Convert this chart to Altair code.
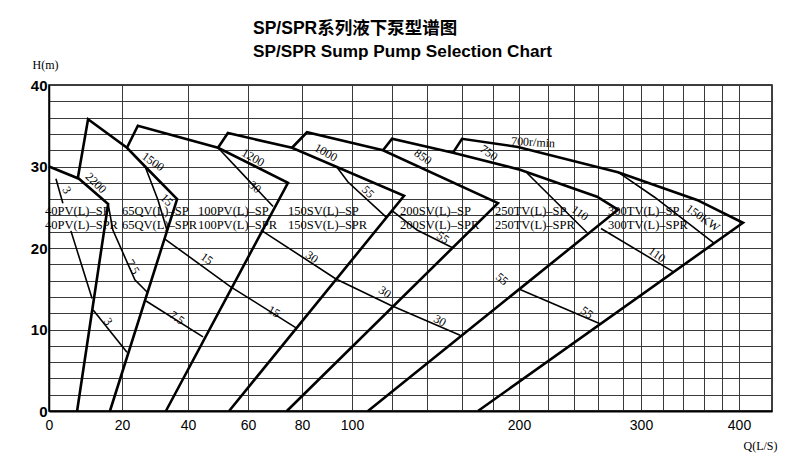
import altair as alt
import pandas as pd

# ---------------- axes ----------------
x_grid_values = list(range(0, 401, 20))
x_label_values = [0, 20, 40, 60, 80, 100, 200, 300, 400]
y_grid_values = list(range(0, 41, 2))
y_label_values = [0, 10, 20, 30, 40]

# the printed chart uses a hand-drawn, non-uniform Q axis:
q_breaks = [0, 20, 40, 60, 80, 100, 120, 140, 160, 180, 200, 220, 240, 260, 280,
            300, 320, 340, 360, 380, 400, 440]
q_screen = [0, 73, 139, 199, 253, 303, 343, 378, 413, 444, 470, 499, 525, 549, 574,
            592, 614, 634, 655, 673, 690, 723]

# ---------------- pump envelopes (Q L/s, H m) ----------------
env_40PV_Q = [0.0, 8.2, 16.2, 7.7]
env_40PV_H = [30.0, 28.5, 25.4, 0.0]
env_65QV_Q = [7.9, 10.7, 21.5, 27.0, 36.7, 16.7]
env_65QV_H = [28.6, 35.8, 32.3, 30.0, 26.0, 0.0]
env_100PV_Q = [21.5, 24.8, 50.0, 74.8, 33.3]
env_100PV_H = [32.3, 35.0, 32.3, 28.0, 0.0]
env_150SV_Q = [50.0, 53.3, 76.3, 126.9, 53.7]
env_150SV_H = [32.3, 34.1, 32.3, 26.4, 0.0]
env_200SV_Q = [76.3, 82.0, 115.5, 183.8, 74.4]
env_200SV_H = [32.3, 34.2, 32.0, 25.5, 0.0]
env_250TV_Q = [115.5, 120.0, 154.9, 200.7, 259.2, 276.0, 108.0]
env_250TV_H = [32.0, 33.4, 31.7, 29.6, 26.3, 24.7, 0.0]
env_300TV_Q = [154.9, 160.0, 199.2, 276.0, 353.3, 404.8, 170.3]
env_300TV_H = [31.7, 33.4, 32.4, 29.3, 25.9, 23.1, 0.0]

# ---------------- motor power lines ----------------
kw3_a_Q = [1.9, 3.8];            kw3_a_H = [28.5, 25.5]
kw3_b_Q = [6.0, 11.8];           kw3_b_H = [22.1, 13.8]
kw3_c_Q = [12.1, 21.5];          kw3_c_H = [12.4, 7.2]
kw75_a_Q = [16.2, 17.5, 23.9, 27.6]; kw75_a_H = [25.4, 22.2, 16.1, 14.6]
kw75_b_Q = [27.3, 45.0];         kw75_b_H = [13.5, 9.1]
kw15_a_Q = [27.0, 30.9, 33.6];   kw15_a_H = [30.0, 25.9, 22.2]
kw15_b_Q = [33.0, 54.0, 77.8];   kw15_b_H = [21.1, 15.3, 10.2]
kw30_a_Q = [50.0, 69.3];         kw30_a_H = [32.3, 25.1]
kw30_b_Q = [64.8, 93.6, 119.0, 158.9]; kw30_b_H = [22.2, 16.2, 13.0, 9.3]
kw55_a_Q = [94.0, 98.4, 117.5];  kw55_a_H = [29.9, 28.1, 23.7]
kw55_b_Q = [120.0, 134.3, 154.9]; kw55_b_H = [24.6, 22.2, 20.0]
kw55_c_Q = [200.7, 261.6];       kw55_c_H = [14.9, 10.7]
kw110_a_Q = [205.5, 250.8];      kw110_a_H = [29.2, 21.9]
kw110_b_Q = [262.4, 330.0];      kw110_b_H = [22.4, 17.1]
kw150_Q = [276.0, 312.7, 371.1]; kw150_H = [29.3, 26.2, 20.6]

# ---------------- labels ----------------
model_names_sp = ["40PV(L)–SP", "65QV(L)–SP", "100PV(L)–SP", "150SV(L)–SP",
                  "200SV(L)–SP", "250TV(L)–SP", "300TV(L)–SP"]
model_names_spr = ["40PV(L)–SPR", "65QV(L)–SPR", "100PV(L)–SPR", "150SV(L)–SPR",
                   "200SV(L)–SPR", "250TV(L)–SPR", "300TV(L)–SPR"]
model_Q = [-1.1, 20.0, 43.3, 74.8, 124.6, 181.5, 268.0]
model_H_sp = 24.55
model_H_spr = 22.85

curve_text = ["3", "3", "7.5", "7.5", "15", "15", "15", "30", "30", "30", "30",
              "55", "55", "55", "55", "110", "110", "150KW",
              "2200", "1500", "1200", "1000", "850", "750", "700r/min"]
curve_text_Q = [4.9, 16.2, 23.3, 36.7, 33.6, 46.3, 69.6, 62.6, 84.0, 116.5, 147.4,
                108.0, 149.1, 187.0, 250.8, 245.0, 314.5, 359.0,
                12.9, 29.4, 61.9, 89.6, 137.7, 177.4, 209.7]
curve_text_H = [27.1, 11.0, 17.7, 11.45, 25.9, 18.7, 12.2, 27.5, 18.9, 14.6, 11.1,
                26.9, 21.3, 16.2, 12.1, 24.3, 19.2, 23.7,
                28.0, 30.6, 31.1, 31.7, 31.2, 31.7, 33.0]
curve_text_angle = [60, 55, 60, 35, 45, 35, 30, 40, 35, 35, 30,
                    45, 35, 40, 35, 35, 35, 35,
                    45, 35, 30, 30, 35, 35, 3]

# ---------------- build tables ----------------
def to_rows(items):
    rows = []
    for name, qs, hs in items:
        for i, (q, h) in enumerate(zip(qs, hs)):
            rows.append({"id": name, "seq": i, "Q": q, "H": h})
    return pd.DataFrame(rows)

env_df = to_rows([
    ("40PV", env_40PV_Q, env_40PV_H), ("65QV", env_65QV_Q, env_65QV_H),
    ("100PV", env_100PV_Q, env_100PV_H), ("150SV", env_150SV_Q, env_150SV_H),
    ("200SV", env_200SV_Q, env_200SV_H), ("250TV", env_250TV_Q, env_250TV_H),
    ("300TV", env_300TV_Q, env_300TV_H),
])
kw_df = to_rows([
    ("3a", kw3_a_Q, kw3_a_H), ("3b", kw3_b_Q, kw3_b_H), ("3c", kw3_c_Q, kw3_c_H),
    ("75a", kw75_a_Q, kw75_a_H), ("75b", kw75_b_Q, kw75_b_H),
    ("15a", kw15_a_Q, kw15_a_H), ("15b", kw15_b_Q, kw15_b_H),
    ("30a", kw30_a_Q, kw30_a_H), ("30b", kw30_b_Q, kw30_b_H),
    ("55a", kw55_a_Q, kw55_a_H), ("55b", kw55_b_Q, kw55_b_H), ("55c", kw55_c_Q, kw55_c_H),
    ("110a", kw110_a_Q, kw110_a_H), ("110b", kw110_b_Q, kw110_b_H),
    ("150", kw150_Q, kw150_H),
])
model_df = pd.DataFrame(
    [{"Q": q, "H": model_H_sp, "t": t} for q, t in zip(model_Q, model_names_sp)] +
    [{"Q": q, "H": model_H_spr, "t": t} for q, t in zip(model_Q, model_names_spr)]
)
curve_df = pd.DataFrame({"Q": curve_text_Q, "H": curve_text_H,
                         "t": curve_text, "a": curve_text_angle})

# ---------------- encodings ----------------
x_scale = alt.Scale(type="linear", domain=q_breaks, range=q_screen, nice=False, zero=False)
y_scale = alt.Scale(domain=[0, 40], nice=False, zero=False)

x_axis = alt.Axis(
    values=x_grid_values,
    labelExpr=f"indexof({x_label_values}, datum.value) >= 0 ? datum.label : ''",
    grid=True, gridColor="#3a3a3a", gridWidth=1, ticks=False,
    domainColor="black", domainWidth=2,
    labelFont="Liberation Sans", labelFontSize=14, labelColor="black",
    labelPadding=7, labelFlush=False, labelOverlap=False, labelBound=False,
    title="Q(L/S)", titleFont="Liberation Serif", titleFontSize=12,
    titleFontWeight="normal", titleColor="black",
    titleX=711, titleY=34, titleAlign="center", titleBaseline="middle",
)
y_axis = alt.Axis(
    values=y_grid_values,
    labelExpr="datum.value % 10 == 0 ? datum.label : ''",
    grid=True, gridColor="#3a3a3a", gridWidth=1, ticks=False,
    domainColor="black", domainWidth=1.5,
    labelFont="Liberation Sans", labelFontSize=15, labelFontWeight="bold",
    labelColor="black", labelPadding=2, labelOverlap=False,
    title="H(m)", titleFont="Liberation Serif", titleFontSize=12,
    titleFontWeight="normal", titleColor="black", titleAngle=0,
    titleX=-17, titleY=-21, titleAlign="left", titleBaseline="middle",
)

X = alt.X("Q:Q", scale=x_scale, axis=x_axis)
Y = alt.Y("H:Q", scale=y_scale, axis=y_axis)

env_layer = alt.Chart(env_df).mark_line(
    color="black", strokeWidth=2.6, strokeJoin="miter", strokeCap="butt"
).encode(x=X, y=Y, detail="id:N", order="seq:Q")

kw_layer = alt.Chart(kw_df).mark_line(
    color="black", strokeWidth=1.6, strokeJoin="miter", strokeCap="butt"
).encode(x=X, y=Y, detail="id:N", order="seq:Q")

model_layer = alt.Chart(model_df).mark_text(
    align="left", baseline="middle", font="Liberation Serif", fontSize=12.5, color="black"
).encode(x=X, y=Y, text="t:N")

curve_layer = alt.Chart(curve_df).mark_text(
    align="center", baseline="middle", font="Liberation Serif", fontSize=12, color="black"
).encode(x=X, y=Y, text="t:N", angle=alt.Angle("a:Q", scale=None))

chart = alt.layer(env_layer, kw_layer, model_layer, curve_layer).properties(
    width=723, height=326,
    autosize=alt.AutoSizeParams(type="none"),
    padding={"left": 41, "top": 77, "right": 22, "bottom": 46},
    title=alt.TitleParams(
        text="SP/SPR系列液下泵型谱图",
        subtitle="SP/SPR Sump Pump Selection Chart",
        anchor="start", frame="group", dx=204, dy=3, offset=1,
        font="Liberation Sans, Noto Sans CJK SC", fontSize=17.5, fontWeight="bold",
        color="black",
        subtitleFont="Liberation Sans", subtitleFontSize=17.2,
        subtitleFontWeight="bold", subtitleColor="black", subtitlePadding=5,
    ),
).configure_view(stroke="black", strokeWidth=1.5)

chart.save("out.html", embed_options={"renderer": "svg", "actions": False})
